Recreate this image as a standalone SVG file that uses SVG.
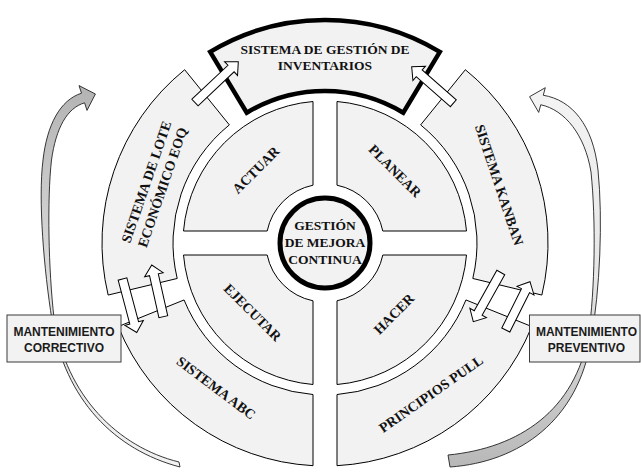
<svg xmlns="http://www.w3.org/2000/svg" width="641" height="475" viewBox="0 0 641 475">
<style>
.seg{fill:#f2f2f2;stroke:#000;stroke-width:1}
.top{fill:#f2f2f2;stroke:#000;stroke-width:4.5;stroke-linejoin:miter}
.lbl{font-family:"Liberation Serif","Times New Roman",serif;font-weight:bold;font-size:14px;fill:#111;text-anchor:middle}
.big{font-size:13.5px}
.blk{fill:#fff;stroke:#000;stroke-width:1}
.box{fill:#f2f2f2;stroke:#3a3a3a;stroke-width:1}
.bt{font-family:"Liberation Sans",Arial,sans-serif;font-weight:bold;font-size:12px;fill:#1a1a1a;text-anchor:middle}
.curve{stroke:#222;stroke-width:0.9}
</style>
<defs>
<linearGradient id="gl" x1="0" y1="0" x2="0" y2="1">
<stop offset="0" stop-color="#b3b3b3"/>
<stop offset="0.5" stop-color="#dcdcdc"/>
<stop offset="1" stop-color="#f2f2f2"/>
</linearGradient>
<linearGradient id="gr" x1="0" y1="0" x2="0" y2="1">
<stop offset="0" stop-color="#f4f4f4"/>
<stop offset="0.5" stop-color="#e6e6e6"/>
<stop offset="1" stop-color="#b8b8b8"/>
</linearGradient>
</defs>
<rect width="641" height="475" fill="#fff"/>

<g id="inventarios">
<path class="top" d="M210.15,51.84 A223,223 0 0 1 439.85,51.84 L403.28,112.71 A152,152 0 0 0 246.72,112.71 Z"/>
<text class="lbl big" x="325" y="53.5">SISTEMA DE GESTIÓN DE</text>
<text class="lbl big" x="325" y="70">INVENTARIOS</text>
</g>
<g id="lote">
<path class="seg" d="M108.15,295.05 A223,223 0 0 1 184.67,69.71 L229.35,124.88 A152,152 0 0 0 177.2,278.48 Z"/>
<g transform="translate(154.5,184.6) rotate(-71)">
<text class="lbl" x="0" y="-3.9">SISTEMA DE LOTE</text>
<text class="lbl" x="0" y="13.1">ECONÓMICO EOQ</text>
</g>
</g>
<g id="kanban">
<path class="seg" d="M465.33,69.71 A223,223 0 0 1 541.85,295.05 L472.8,278.48 A152,152 0 0 0 420.65,124.88 Z"/>
<text class="lbl" transform="translate(499,185) rotate(71.6)" x="0" y="4.6">SISTEMA KANBAN</text>
</g>
<g id="abc">
<path class="seg" d="M313,465.68 A223,223 0 0 1 118.24,326.54 L184.07,299.94 A152,152 0 0 0 313,394.53 Z"/>
<text class="lbl" transform="translate(216,388) rotate(37)" x="0" y="4.6">SISTEMA ABC</text>
</g>
<g id="pull">
<path class="seg" d="M531.76,326.54 A223,223 0 0 1 337,465.68 L337,394.53 A152,152 0 0 0 465.93,299.94 Z"/>
<text class="lbl" transform="translate(431,394) rotate(-35)" x="0" y="4.6">PRINCIPIOS PULL</text>
</g>
<g id="actuar">
<path class="seg" d="M313,101.5 A142,142 0 0 0 183.5,231 L267.2,231 A59,59 0 0 1 313,185.2 Z"/>
<text class="lbl" transform="translate(256,170) rotate(-45)" x="0" y="4.6">ACTUAR</text>
</g>
<g id="planear">
<path class="seg" d="M337,101.5 A142,142 0 0 1 466.5,231 L382.8,231 A59,59 0 0 0 337,185.2 Z"/>
<text class="lbl" transform="translate(395,171) rotate(45)" x="0" y="4.6">PLANEAR</text>
</g>
<g id="ejecutar">
<path class="seg" d="M313,384.5 A142,142 0 0 1 183.5,255 L267.2,255 A59,59 0 0 0 313,300.8 Z"/>
<text class="lbl" transform="translate(252.5,312.5) rotate(45)" x="0" y="4.6">EJECUTAR</text>
</g>
<g id="hacer">
<path class="seg" d="M337,384.5 A142,142 0 0 0 466.5,255 L382.8,255 A59,59 0 0 1 337,300.8 Z"/>
<text class="lbl" transform="translate(394,314) rotate(-45)" x="0" y="4.6">HACER</text>
</g>
<g id="mejora">
<circle cx="325" cy="243" r="45" fill="#f2f2f2" stroke="#000" stroke-width="5"/>
<text class="lbl big" x="325" y="230">GESTIÓN</text>
<text class="lbl big" x="325" y="247">DE MEJORA</text>
<text class="lbl big" x="325" y="263.5">CONTINUA</text>
</g>

<g id="connectors">
<path class="blk" transform="translate(195,102.5) rotate(-43.3)" d="M0,-4.5H49.5V-9.5L59.5,0L49.5,9.5V4.5H0Z"/>
<path class="blk" transform="translate(453.3,103.3) rotate(-138.7)" d="M0,-4.5H45.4V-9.5L55.4,0L45.4,9.5V4.5H0Z"/>
<path class="blk" transform="translate(122.5,279) rotate(75.1)" d="M0,-4.5H45.4V-9.5L55.4,0L45.4,9.5V4.5H0Z"/>
<path class="blk" transform="translate(163.3,316.7) rotate(-102.6)" d="M0,-4.5H43V-9.5L53,0L43,9.5V4.5H0Z"/>
<path class="blk" transform="translate(500.8,272.5) rotate(119.2)" d="M0,-4.5H46.4V-9.5L56.4,0L46.4,9.5V4.5H0Z"/>
<path class="blk" transform="translate(505.8,330) rotate(-63.4)" d="M0,-4.5H44V-9.5L54,0L44,9.5V4.5H0Z"/>
<path class="curve" fill="url(#gl)" d="M180,467 C115,450 65,400 52,320 C44,270 38,200 43,160 C47,125 60,100 81.5,93.2 L79,85.6 L95.4,94 L87,110.4 L84.6,102.8 C67,108 56,128 51.5,160 C47,200 48.5,270 54,318 C66,396 118,447 179,462 Z"/>
<path class="curve" fill="url(#gr)" d="M450,467 C520,462 578,420 591,340 C600,290 603,220 598,170 C593,125 572,100 543.25,95.25 L545.3,87.7 L529.6,96.7 L538.7,112.4 L540.75,104.75 C565,110 585,135 591,172 C596,220 595,290 588.5,335 C575,410 520,448 448,455 Z"/>
</g>

<g id="correctivo">
<rect class="box" x="7" y="315" width="114" height="47"/>
<text class="bt" x="64" y="336">MANTENIMIENTO</text>
<text class="bt" x="64" y="351.6">CORRECTIVO</text>
</g>
<g id="preventivo">
<rect class="box" x="529.5" y="315" width="110.5" height="47"/>
<text class="bt" x="586.5" y="336">MANTENIMIENTO</text>
<text class="bt" x="586.5" y="351.6">PREVENTIVO</text>
</g>
</svg>
